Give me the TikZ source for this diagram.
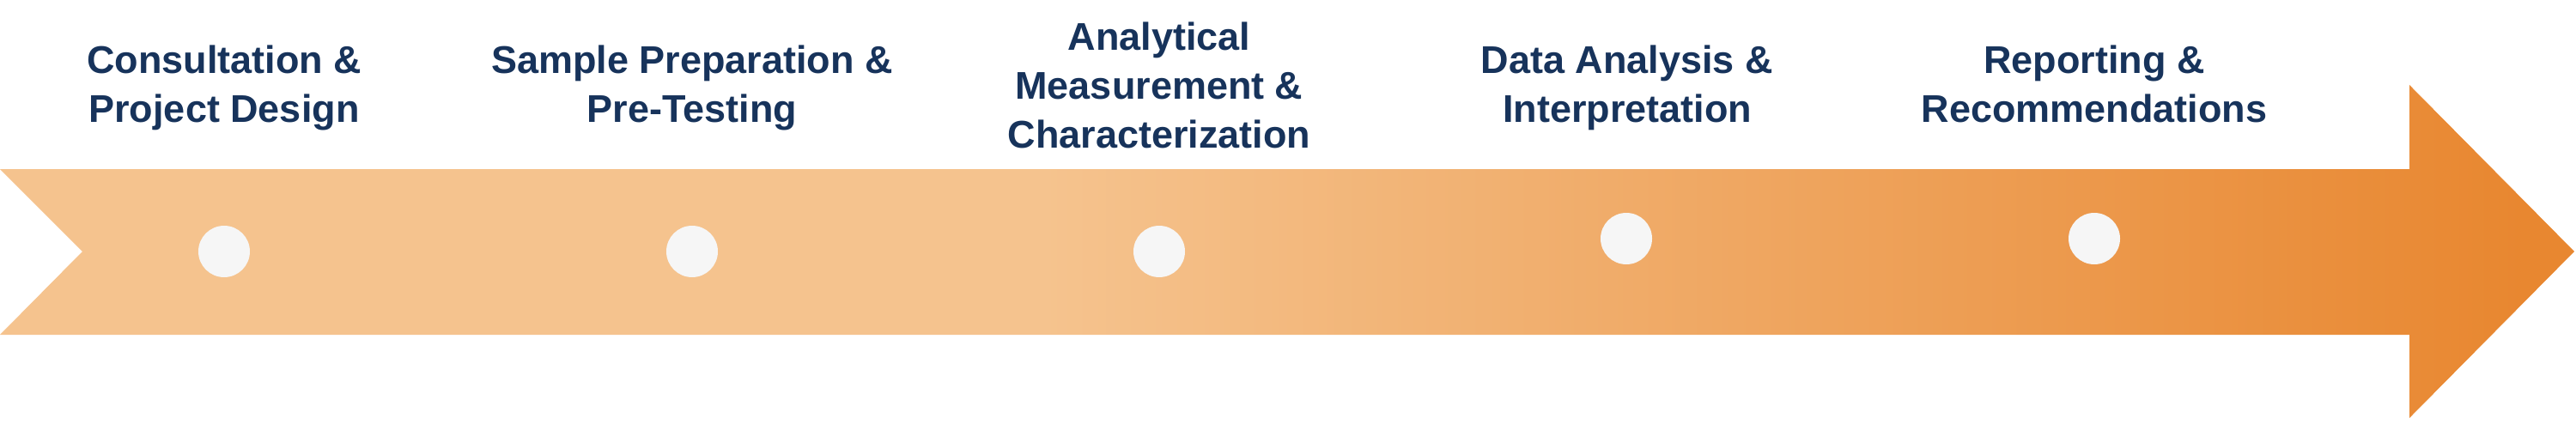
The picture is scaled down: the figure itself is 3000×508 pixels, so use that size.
\documentclass[tikz,border=0pt]{standalone}
\usepackage{fontspec}
\setmainfont{Liberation Sans}
\usepackage{tikz}
\definecolor{labelnavy}{RGB}{23,51,91}
\definecolor{dotgray}{RGB}{246,246,246}
\pgfdeclarehorizontalshading{arrowfade}{100bp}{rgb(0bp)=(0.961,0.765,0.557); rgb(45.25bp)=(0.961,0.765,0.557); rgb(74bp)=(0.910,0.529,0.188); rgb(100bp)=(0.910,0.529,0.188)}
\tikzset{
  stepdot/.style={circle,fill=dotgray,draw=none,minimum size=60pt,inner sep=0pt},
  steplabel/.style={anchor=north,align=center,inner sep=0pt,text=labelnavy,font=\fontsize{45}{57}\selectfont\bfseries}
}

\begin{document}
\begin{tikzpicture}[x=1pt,y=1pt,yscale=-1,xscale=1]
	\useasboundingbox (0,0) rectangle (3000,508);
	
	%Shape: Notched Arrow
	\shade [shading=arrowfade] (0,197) -- (2806,197) -- (2806,99) -- (2998,293) -- (2806,487) -- (2806,390) -- (0,390) -- (96,293) -- cycle ;
	
	%Shape: Circles
	\node [stepdot] (dot1) at (261,293) {};
	\node [stepdot] (dot2) at (806,293) {};
	\node [stepdot] (dot3) at (1350,293) {};
	\node [stepdot] (dot4) at (1894,278) {};
	\node [stepdot] (dot5) at (2439,278) {};
	
	% Text Node
	\node [steplabel] (consult) at (261,53) {Consultation \&\\Project Design};
	% Text Node
	\node [steplabel] (prep) at (806,53) {Sample Preparation \&\\Pre-Testing};
	% Text Node
	\node [steplabel] (measure) at (1350,26) {Analytical\\Measurement \&\\Characterization};
	% Text Node
	\node [steplabel] (analysis) at (1895,53) {Data Analysis \&\\Interpretation};
	% Text Node
	\node [steplabel] (report) at (2439,53) {Reporting \&\\Recommendations};
	
\end{tikzpicture}
\end{document}
